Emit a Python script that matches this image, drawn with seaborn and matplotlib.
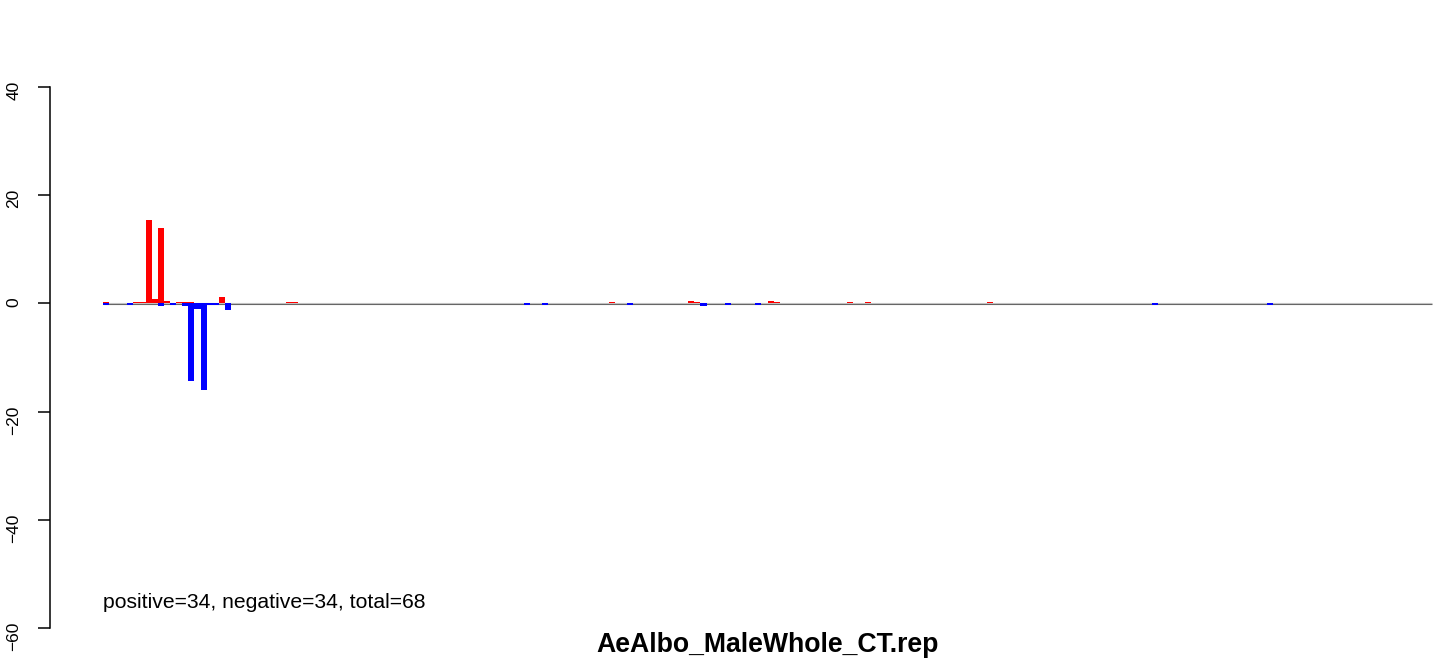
import numpy as np
import pandas as pd
import matplotlib
matplotlib.use("Agg")
import matplotlib.pyplot as plt
import seaborn as sns

# bins along the x axis (one bar slot each)
n_bins = 218

# red (positive) bars: bin index and height
pos_bins = [0, 5, 6, 7, 8, 9, 10, 12, 13, 14, 19, 30, 31, 83, 96, 97, 109, 110, 122, 125, 145]
pos_vals = [0.3, 0.3, 0.2, 15.4, 0.9, 13.9, 0.4, 0.2, 0.3, 0.3, 1.1, 0.3, 0.3,
            0.3, 0.5, 0.2, 0.4, 0.2, 0.3, 0.3, 0.3]

# blue (negative) bars
neg_bins = [0, 4, 9, 11, 13, 14, 15, 16, 17, 18, 20, 69, 72, 86, 98, 102, 107, 172, 191]
neg_vals = [-0.3, -0.3, -0.5, -0.3, -0.4, -14.4, -1.1, -16.0, -0.3, -0.3, -1.2,
            -0.3, -0.3, -0.3, -0.5, -0.3, -0.3, -0.3, -0.3]

y_ticks = [-60, -40, -20, 0, 20, 40]
n_pos, n_neg = 34, 34
title = "AeAlbo_MaleWhole_CT.rep"

df = pd.DataFrame({"bin": np.arange(n_bins), "pos": 0.0, "neg": 0.0})
df.loc[pos_bins, "pos"] = pos_vals
df.loc[neg_bins, "neg"] = neg_vals

sns.set_theme(style="white")
plt.rcParams["font.family"] = ["Liberation Sans", "DejaVu Sans"]

W, H = 1444, 658
fig = plt.figure(figsize=(W / 100, H / 100), dpi=100)
# plot region runs from x=50px to past the right edge (R style 4% padding)
ax = fig.add_axes([50 / W, 8.4 / H, 1436 / W, 584.2 / H])

# baseline drawn as two thin gray strokes
ax.hlines(0.09, -0.5, n_bins - 0.5, color="#c8c8c8", lw=0.8, zorder=1)
ax.hlines(-0.07, -0.5, n_bins - 0.5, color="#666666", lw=0.8, zorder=1)

sns.barplot(data=df, x="bin", y="pos", color="red", saturation=1, width=1,
            linewidth=0, ax=ax, zorder=2)
sns.barplot(data=df, x="bin", y="neg", color="blue", saturation=1, width=1,
            linewidth=0, ax=ax, zorder=2)

px = 1329 / n_bins
ax.set_xlim(-0.5 - 53 / px, n_bins - 0.5 + 54 / px)
ax.set_ylim(-64, 44)
ax.set_xticks([])
ax.set_xlabel("")
ax.set_ylabel("")
ax.set_yticks(y_ticks)
ax.set_yticklabels([str(t).replace("-", "\u2212") for t in y_ticks])
ax.tick_params(axis="y", left=True, length=8.6, width=1.1, pad=12,
               labelsize=12.5, labelrotation=90, color="black", labelcolor="black")
for s in ["top", "right", "bottom"]:
    ax.spines[s].set_visible(False)
ax.spines["left"].set_bounds(-60, 40)
ax.spines["left"].set_linewidth(1.1)
ax.spines["left"].set_color("black")
ax.patch.set_alpha(0)

ax.text(-0.5, -55.3, f"positive={n_pos}, negative={n_neg}, total={n_pos + n_neg}",
        ha="left", va="center", fontsize=15.2, color="black")
fig.text(768 / W, 1 - 645 / H, title, ha="center", va="center",
         fontsize=19.2, fontweight="bold", color="black")

fig.savefig("out.png", dpi=100)
